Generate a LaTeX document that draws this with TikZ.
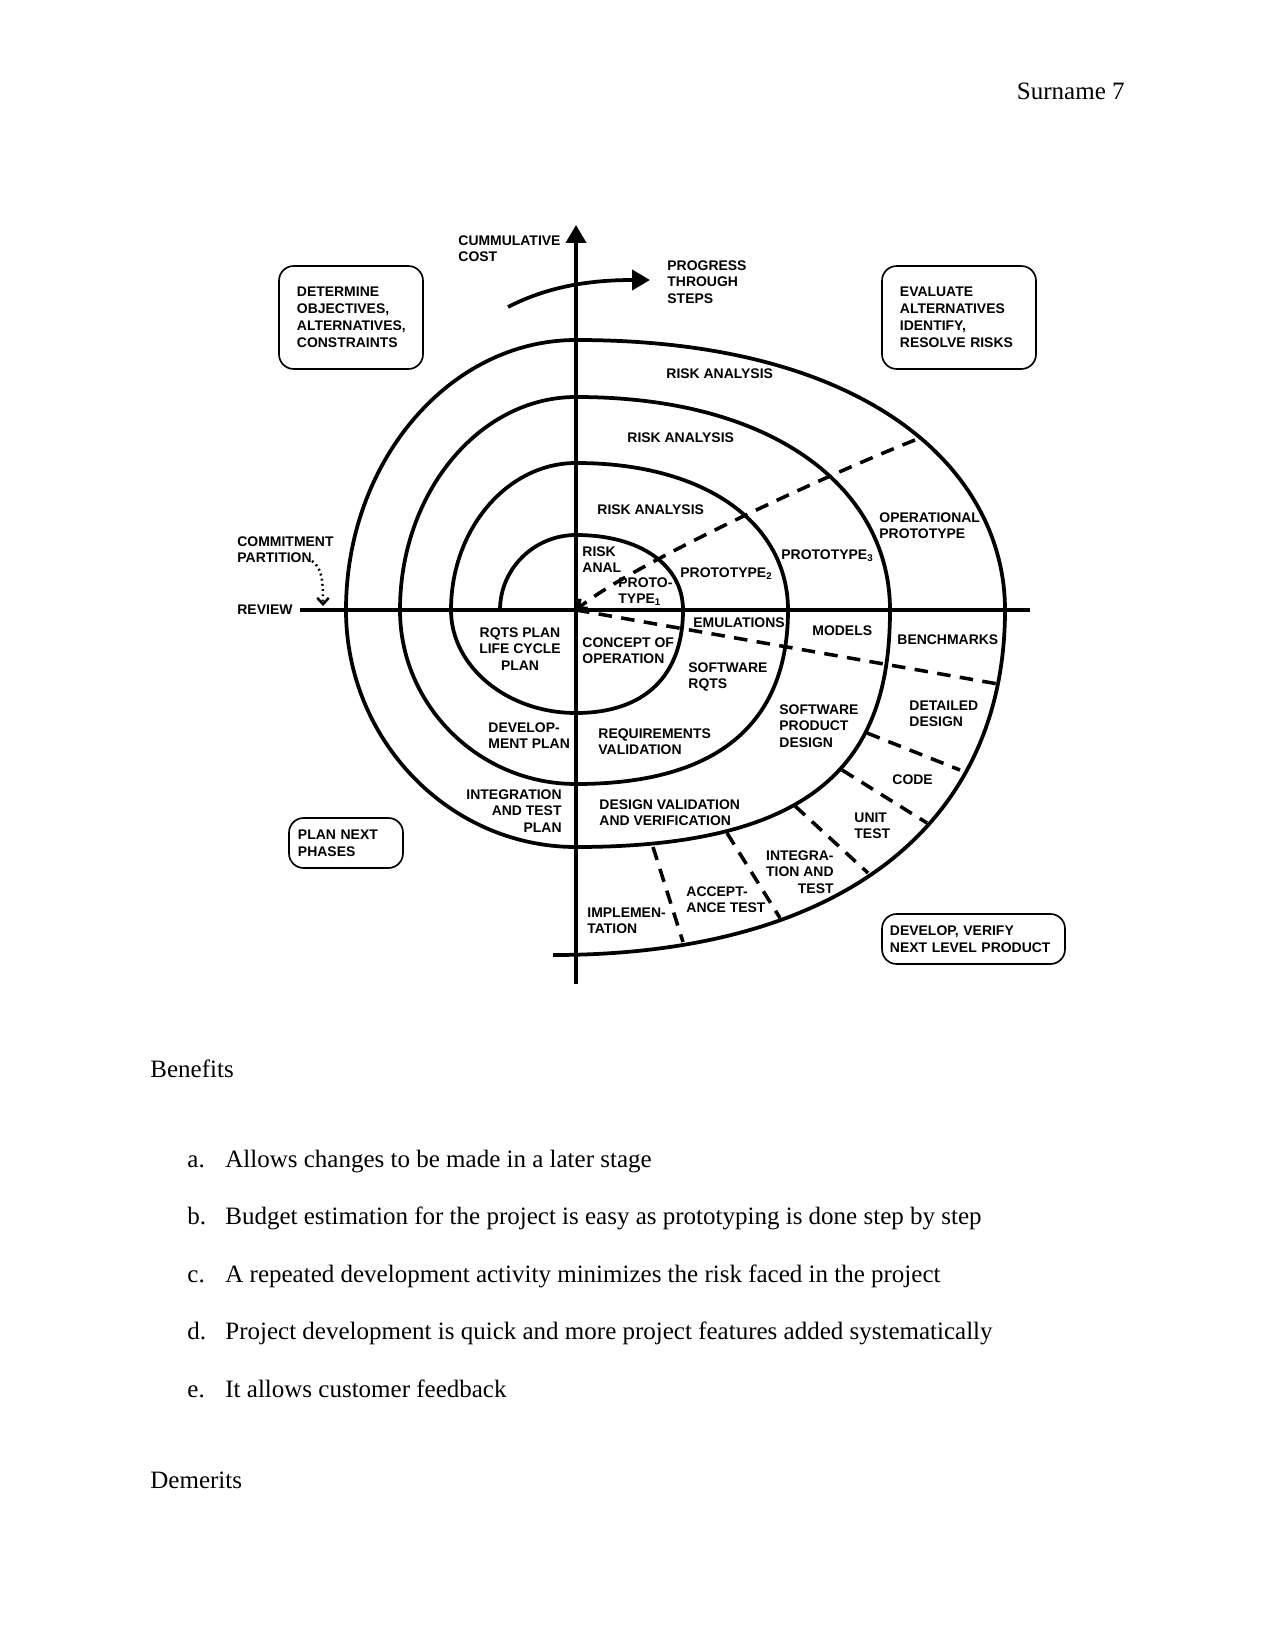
\documentclass[tikz,border=0pt]{standalone}
\usepackage{fontspec}
\setmainfont{Liberation Serif}
\setsansfont{Liberation Sans}
\usetikzlibrary{arrows.meta,calc}

% one quarter of the spiral: from #1 to #2, bent toward corner #3 by #4 and #5
\newcommand{\qarc}[5]{.. controls ($(#1)!#4!(#3)$) and ($(#2)!#5!(#3)$) .. (#2)}

\begin{document}
\begin{tikzpicture}[x=0.48pt, y=-0.48pt,
  spiral/.style = {line width=1.8pt},
  axis/.style = {line width=1.8pt},
  cut/.style = {line width=1.7pt, dash pattern=on 6.5pt off 4.5pt},
  lbl/.style = {font=\sffamily\bfseries\fontsize{6.7}{8}\selectfont, inner sep=0pt, align=left},
  phase/.style = {draw, line width=0.8pt, rounded corners=7pt, inner xsep=8.6pt,
                  font=\sffamily\bfseries\fontsize{6.7}{8.2}\selectfont, align=left},
  body/.style = {font=\fontsize{12}{14}\selectfont, inner sep=0pt}]

\path[fill=white] (0,0) rectangle (1275,1650);
\useasboundingbox (0,0) rectangle (1275,1650);

% header
\node[body, anchor=base east] (head) at (1125,100) {Surname 7};

% crossing points of the spiral
\coordinate (o) at (576,610);
\coordinate (l1) at (500,610); \coordinate (t1) at (576,535);
\coordinate (r1) at (683,610); \coordinate (b1) at (576,713);
\coordinate (l2) at (451,610); \coordinate (t2) at (576,463);
\coordinate (r2) at (788,610); \coordinate (b2) at (576,784);
\coordinate (l3) at (400,610); \coordinate (t3) at (576,397);
\coordinate (r3) at (890,610); \coordinate (b3) at (576,847);
\coordinate (l4) at (346,610); \coordinate (t4) at (576,340);
\coordinate (r4) at (1005,610); \coordinate (e4) at (553,955);

% axes
\draw[axis] (300,610) -- (1030,610);
\draw[axis, -{Triangle[length=8.6pt, width=9.6pt]}] (576,984) -- (576,225);

% spiral
\draw[spiral] (l1) \qarc{l1}{t1}{l1|-t1}{.55}{.55}
  \qarc{t1}{r1}{r1|-t1}{.6}{.6} \qarc{r1}{b1}{r1|-b1}{.64}{.64} \qarc{b1}{l2}{l2|-b1}{.55}{.55}
  \qarc{l2}{t2}{l2|-t2}{.55}{.55} \qarc{t2}{r2}{r2|-t2}{.62}{.58} \qarc{r2}{b2}{r2|-b2}{.62}{.7}
  \qarc{b2}{l3}{l3|-b2}{.55}{.55} \qarc{l3}{t3}{l3|-t3}{.55}{.55} \qarc{t3}{r3}{r3|-t3}{.65}{.55}
  \qarc{r3}{b3}{r3|-b3}{.6}{.8} \qarc{b3}{l4}{l4|-b3}{.55}{.55} \qarc{l4}{t4}{l4|-t4}{.55}{.55}
  \qarc{t4}{r4}{r4|-t4}{.7}{.5} \qarc{r4}{e4}{r4|-e4}{.62}{.64};

% dashed partitions
\coordinate (pa) at (915,440);
\coordinate (pb) at (998,684);
\draw[cut, -{Straight Barb[length=3.5pt, width=6pt]}] (pa) .. controls (822,477) and (630,566) .. (o);
\draw[cut] (o) -- (pb);
\draw[cut] (653,847) -- (683,942);
\draw[cut] (727,833) -- (780,918);
\draw[cut] (795,806) -- (868,873);
\draw[cut] (842,770) -- (927,823);
\draw[cut] (867,733) -- (960,770);

% quadrant boxes
\node[phase, text width=51.9pt, minimum height=49.4pt] (determine) at (351,317.5)
  {DETERMINE\\OBJECTIVES,\\ALTERNATIVES,\\CONSTRAINTS};
\node[phase, text width=56.7pt, minimum height=49.4pt] (evaluate) at (959,317.5)
  {EVALUATE\\ALTERNATIVES\\IDENTIFY,\\RESOLVE RISKS};
\node[phase, inner xsep=4.3pt, text width=46.1pt, minimum height=24pt] (plannext) at (346,843)
  {PLAN NEXT\\PHASES};
\node[phase, inner xsep=3.8pt, text width=80.2pt, minimum height=24pt] (develop) at (973.5,939)
  {DEVELOP, VERIFY\\NEXT LEVEL PRODUCT};

% axis labels
\node[lbl, anchor=north west] (cost) at (458,235) {CUMMULATIVE\\COST};
\node[lbl, anchor=north west] (progress) at (667,260) {PROGRESS\\THROUGH\\STEPS};
\coordinate (ps) at (508,307);
\coordinate (pe) at (650,280);
\draw[axis, -{Triangle[length=8.6pt, width=9.6pt]}] (ps) .. controls (545,288) and (585,280) .. (pe);

\node[lbl, anchor=north west] (commit) at (237,536) {COMMITMENT\\PARTITION};
\node[lbl, anchor=west] (review) at (237,610) {REVIEW};
\coordinate (cp) at (323,606);
\draw[line width=1.2pt, dash pattern=on 0.9pt off 1.6pt, -{Straight Barb[length=3pt, width=5.5pt]}]
  (312,561) .. controls (322,568) and (323,580) .. (cp);

% upper half
\node[lbl, anchor=north west] (ra4) at (666,368) {RISK ANALYSIS};
\node[lbl, anchor=north west] (ra3) at (627,432) {RISK ANALYSIS};
\node[lbl, anchor=north west] (ra2) at (597,504) {RISK ANALYSIS};
\node[lbl, anchor=north west] (ra1) at (582,546) {RISK\\ANAL};
\node[lbl, anchor=north west] (proto1) at (618,577) {PROTO-\\TYPE\textsubscript{1}};
\node[lbl, anchor=north west] (proto2) at (680,567) {PROTOTYPE\textsubscript{2}};
\node[lbl, anchor=north west] (proto3) at (781,549) {PROTOTYPE\textsubscript{3}};
\node[lbl, anchor=north west] (opproto) at (879,512) {OPERATIONAL\\PROTOTYPE};

% lower half
\node[lbl, anchor=north, align=center] (rqtsplan) at (520,627) {RQTS PLAN\\LIFE CYCLE\\PLAN};
\node[lbl, anchor=north west] (concept) at (582,637) {CONCEPT OF\\OPERATION};
\node[lbl, anchor=north west] (emul) at (693,617) {EMULATIONS};
\node[lbl, anchor=north west] (models) at (812,625) {MODELS};
\node[lbl, anchor=north west] (bench) at (897,634) {BENCHMARKS};
\node[lbl, anchor=north west] (swrqts) at (688,662) {SOFTWARE\\RQTS};
\node[lbl, anchor=north west] (devplan) at (488,722) {DEVELOP-\\MENT PLAN};
\node[lbl, anchor=north west] (reqval) at (598,728) {REQUIREMENTS\\VALIDATION};
\node[lbl, anchor=north west] (prodesign) at (779,704) {SOFTWARE\\PRODUCT\\DESIGN};
\node[lbl, anchor=north west] (detdesign) at (909,700) {DETAILED\\DESIGN};
\node[lbl, anchor=north east, align=right] (itplan) at (562,789) {INTEGRATION\\AND TEST\\PLAN};
\node[lbl, anchor=north west] (desval) at (599,799) {DESIGN VALIDATION\\AND VERIFICATION};
\node[lbl, anchor=north west] (code) at (892,774) {CODE};
\node[lbl, anchor=north west] (unit) at (854,812) {UNIT\\TEST};
\node[lbl, anchor=north east, align=right] (integ) at (834,850) {INTEGRA-\\TION AND\\TEST};
\node[lbl, anchor=north west] (accept) at (686,886) {ACCEPT-\\ANCE TEST};
\node[lbl, anchor=north west] (impl) at (587,907) {IMPLEMEN-\\TATION};

% text below
\node[body, anchor=base west] (benefits) at (150,1077) {Benefits};
\node[body, anchor=base west] (la) at (187,1167) {a.};
\node[body, anchor=base west] (ta) at (225,1167) {Allows changes to be made in a later stage};
\node[body, anchor=base west] (lb) at (187,1224) {b.};
\node[body, anchor=base west] (tb) at (225,1224) {Budget estimation for the project is easy as prototyping is done step by step};
\node[body, anchor=base west] (lc) at (187,1282) {c.};
\node[body, anchor=base west] (tc) at (225,1282) {A repeated development activity minimizes the risk faced in the project};
\node[body, anchor=base west] (ld) at (187,1339) {d.};
\node[body, anchor=base west] (td) at (225,1339) {Project development is quick and more project features added systematically};
\node[body, anchor=base west] (le) at (187,1397) {e.};
\node[body, anchor=base west] (te) at (225,1397) {It allows customer feedback};
\node[body, anchor=base west] (demerits) at (150,1488) {Demerits};
\end{tikzpicture}
\end{document}
